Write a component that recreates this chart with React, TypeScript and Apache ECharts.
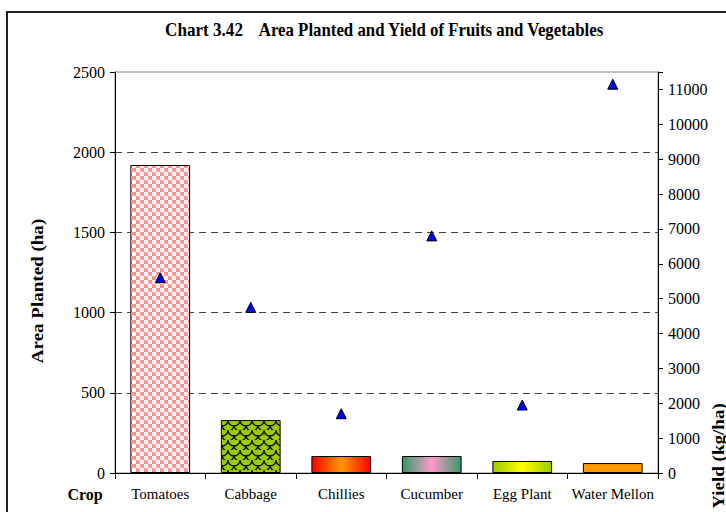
import React, { useEffect, useRef } from "react";
import * as echarts from "echarts";

const categories = ["Tomatoes", "Cabbage", "Chillies", "Cucumber", "Egg Plant", "Water Mellon"];
const areaPlanted = [1920, 330, 106, 106, 75, 62];
const yieldKgHa = [5600, 4750, 1700, 6800, 1950, 11150];
const leftTicks = { min: 0, max: 2500, interval: 500 };
const rightTicks = { min: 0, max: 11500, interval: 1000 };

const FONT = "'Liberation Serif', 'Times New Roman', serif";

function tomatoPattern() {
  const c = document.createElement("canvas");
  c.width = 8;
  c.height = 8;
  const g = c.getContext("2d")!;
  g.fillStyle = "#ff8c8c";
  g.fillRect(0, 0, 8, 8);
  g.fillStyle = "#ffffff";
  g.beginPath();
  g.arc(2, 2, 2.4, 0, Math.PI * 2);
  g.fill();
  g.beginPath();
  g.arc(6, 6, 2.4, 0, Math.PI * 2);
  g.fill();
  g.fillStyle = "#ffb0b0";
  g.fillRect(1.5, 1, 1, 1);
  g.fillRect(5.5, 5, 1, 1);
  return c;
}

function cabbagePattern() {
  const c = document.createElement("canvas");
  c.width = 12;
  c.height = 10;
  const g = c.getContext("2d")!;
  g.fillStyle = "#99cc00";
  g.fillRect(0, 0, 12, 10);
  g.strokeStyle = "#111";
  g.lineWidth = 1.3;
  g.beginPath();
  g.arc(6, 0, 6, 0, Math.PI);
  g.stroke();
  g.beginPath();
  g.arc(0, 5, 6, 0, Math.PI / 2);
  g.stroke();
  g.beginPath();
  g.arc(12, 5, 6, Math.PI / 2, Math.PI);
  g.stroke();
  return c;
}

function hGrad(a: string, b: string) {
  return new echarts.graphic.LinearGradient(0, 0, 1, 0, [
    { offset: 0, color: a },
    { offset: 0.5, color: b },
    { offset: 1, color: a },
  ]);
}

export default function App() {
  const ref = useRef<HTMLDivElement>(null);
  useEffect(() => {
    if (!ref.current) return;
    const chart = echarts.init(ref.current, null, { renderer: "svg" });
    const tp = tomatoPattern();
    const cp = cabbagePattern();
    const fills: any[] = [
      { image: tp, repeat: "repeat", imageWidth: 8, imageHeight: 8 },
      { image: cp, repeat: "repeat", imageWidth: 12, imageHeight: 10 },
      hGrad("#ff0000", "#ff9900"),
      hGrad("#339966", "#ff99cc"),
      hGrad("#99cc00", "#ffff00"),
      "#ff9900",
    ];
    const boldText = (text: string, x: number, y: number, extra: any = {}) => ({
      type: "text",
      x,
      y,
      ...extra,
      style: {
        text,
        fontFamily: FONT,
        fontWeight: "bold",
        fontSize: extra.fontSize || 16,
        fill: "#000",
        textAlign: "center",
        textVerticalAlign: "middle",
      },
    });
    chart.setOption({
      animation: false,
      backgroundColor: "#ffffff",
      grid: {
        left: 115,
        right: 68,
        top: 72,
        bottom: 39,
        show: true,
        borderColor: "#888",
        borderWidth: 1,
        backgroundColor: "transparent",
      },
      xAxis: {
        type: "category",
        data: categories,
        axisLine: { lineStyle: { color: "#000", width: 1 } },
        axisTick: { show: true, length: 6, lineStyle: { color: "#000" } },
        axisLabel: { color: "#000", fontFamily: FONT, fontSize: 15, margin: 13, interval: 0 },
      },
      yAxis: [
        {
          type: "value",
          min: leftTicks.min,
          max: leftTicks.max,
          interval: leftTicks.interval,
          axisLine: { show: true, lineStyle: { color: "#000" } },
          axisTick: { show: true, length: 5, lineStyle: { color: "#000" } },
          axisLabel: {
            color: "#000",
            fontFamily: FONT,
            fontSize: 16,
            margin: 10,
            formatter: (v: number) => String(v),
          },
          splitLine: {
            show: true,
            showMinLine: false,
            showMaxLine: false,
            lineStyle: { color: "#444", type: [7, 5], width: 1 },
          },
        },
        {
          type: "value",
          position: "right",
          min: rightTicks.min,
          max: rightTicks.max,
          interval: rightTicks.interval,
          axisLine: { show: true, lineStyle: { color: "#000" } },
          axisTick: { show: true, length: 5, lineStyle: { color: "#000" } },
          axisLabel: {
            color: "#000",
            fontFamily: FONT,
            fontSize: 16,
            margin: 10,
            formatter: (v: number) => (v > 11000 ? "" : String(v)),
          },
          splitLine: { show: false },
        },
      ],
      series: [
        {
          type: "bar",
          yAxisIndex: 0,
          barWidth: "66%",
          data: areaPlanted.map((v, i) => ({
            value: v,
            itemStyle: { color: fills[i], borderColor: "#000", borderWidth: 1 },
          })),
        },
        {
          type: "scatter",
          yAxisIndex: 1,
          symbol: "triangle",
          symbolSize: [10, 10],
          itemStyle: { color: "#0000ff", borderColor: "#000", borderWidth: 1, opacity: 1 },
          data: yieldKgHa,
        },
      ],
      graphic: [
        {
          type: "rect",
          shape: { x: 7, y: 12, width: 800, height: 600 },
          style: { fill: "none", stroke: "#222", lineWidth: 2 },
          silent: true,
        },
        boldText("Chart 3.42", 204, 30, { scaleX: 0.95, fontSize: 18 }),
        boldText("Area Planted and Yield of Fruits and Vegetables", 431, 30, {
          scaleX: 0.935,
          fontSize: 18,
        }),
        boldText("Area Planted (ha)", 37, 291, { rotation: Math.PI / 2, scaleX: 1.12, fontSize: 17 }),
        boldText("Yield (kg/ha)", 718, 456, { rotation: Math.PI / 2, scaleX: 1.12, fontSize: 17 }),
        boldText("Crop", 85, 494, { fontSize: 16 }),
      ],
    });
    return () => chart.dispose();
  }, []);
  return (
    <div
      ref={ref}
      style={{ position: "absolute", left: 0, top: 0, width: 726, height: 512 }}
    />
  );
}
